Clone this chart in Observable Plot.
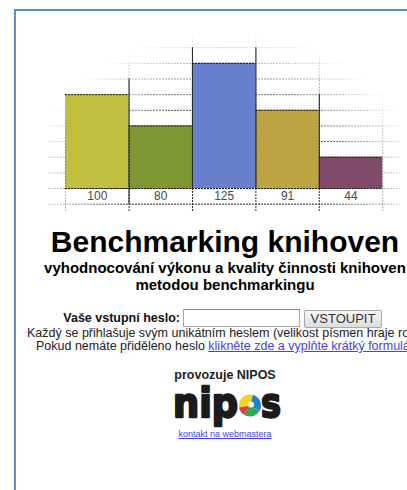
<!DOCTYPE html>
<html><head><meta charset="utf-8">
<script src="https://cdn.jsdelivr.net/npm/d3@7"></script>
<script src="https://cdn.jsdelivr.net/npm/@observablehq/plot@0.6"></script>
<style>
html,body{margin:0;padding:0;width:407px;height:490px;overflow:hidden;background:#fff;font-family:"Liberation Sans",Arial,sans-serif;}
#frame{position:absolute;left:14px;top:9px;width:700px;height:700px;border-left:2px solid #5a8acd;border-top:2px solid #5a8acd;z-index:5;pointer-events:none;}
#chart{position:absolute;left:0;top:0;}
.c{position:absolute;left:15px;width:420px;text-align:center;white-space:nowrap;}
#title{top:225px;font-size:30px;line-height:34px;font-weight:bold;color:#000;}
#sub{top:259px;font-size:15px;line-height:17px;font-weight:bold;color:#000;}
#lbl{position:absolute;left:0;width:180px;top:311px;text-align:right;font-size:12.5px;line-height:15px;font-weight:bold;color:#111;white-space:nowrap;}
#inp{position:absolute;left:183px;top:309px;width:115px;height:16px;border:1px solid #a6a6a6;border-top-color:#8a8a8a;background:#fff;}
#btn{position:absolute;left:304px;top:310px;width:76px;height:16px;border:1px solid #a9a9a9;border-radius:2px;background:linear-gradient(#f7f7f7,#dddddd);font-size:13px;line-height:16px;text-align:center;color:#333;}
.l{position:absolute;white-space:nowrap;font-size:12.5px;line-height:13px;color:#222;}
a{color:#4343e6;text-decoration:underline;}
#prov{top:369px;font-size:12.5px;line-height:13px;font-weight:bold;color:#222;}
#logo{position:absolute;left:160px;top:384px;}
#kontakt{top:429px;font-size:9px;line-height:11px;}
</style></head>
<body>
<div id="frame"></div>
<div id="chart"></div>
<div class="c" id="title">Benchmarking knihoven</div>
<div class="c" id="sub">vyhodnocování výkonu a kvality činnosti knihoven<br>metodou benchmarkingu</div>
<div id="lbl">Vaše vstupní heslo:</div>
<div id="inp"></div>
<div id="btn">VSTOUPIT</div>
<div class="l" style="left:27px;top:327px;">Každý se přihlašuje svým unikátním heslem (velikost písmen hraje roli).</div>
<div class="l" style="left:36px;top:340px;">Pokud nemáte přiděleno heslo <a>klikněte zde a vyplňte krátký formulář</a></div>
<div class="c" id="prov">provozuje NIPOS</div>
<svg id="logo" width="130" height="50"></svg>
<div class="c" id="kontakt"><a>kontakt na webmastera</a></div>
<script>
// ---- data ----
const labels = ["100", "80", "125", "91", "44"];          // value labels under the bars
const heights = [6, 4, 8, 5, 2];                          // drawn bar heights, in grid steps
const colors = ["#c0bf40", "#7f9733", "#6680cc", "#bda443", "#804b68"];
const gridLevels = [-1, 0, 1, 2, 3, 4, 5, 6, 7, 8, 9];    // dotted horizontal grid lines
const boundaries = [0, 1, 2, 3, 4, 5];                    // dotted vertical grid lines
const dividers = [1, 2, 3, 4];                            // solid separators between bars
const dividerTop = [7, 9, 9, 6];
const dividerBottom = [-1, 0, 0, 0];

const bars = labels.map((label, i) => ({i, label, h: heights[i], color: colors[i]}));
const divs = dividers.map((d, k) => ({x: d, top: dividerTop[k], bottom: dividerBottom[k]}));

const dot = "2,1";
const chart = Plot.plot({
  width: 407, height: 215,
  marginLeft: 48, marginRight: 7, marginTop: 35, marginBottom: 3,
  style: {background: "transparent"},
  x: {domain: [-0.27, 5.28], axis: null},
  y: {domain: [-1.53, 9.78], axis: null},
  color: {type: "identity"},
  marks: [
    Plot.ruleY(gridLevels, {stroke: "#2a2a2a", strokeDasharray: dot, ariaLabel: () => "gridh"}),
    Plot.rect(bars, {x1: d => d.i, x2: d => d.i + 1, y1: 0, y2: "h", fill: "color"}),
    Plot.ruleY(bars, {x1: d => d.i, x2: d => d.i + 1, y: "h", stroke: "#111", strokeDasharray: dot}),
    Plot.ruleY(bars, {x1: d => d.i, x2: d => d.i + 1, y: 0, stroke: "#111", strokeDasharray: dot}),
    Plot.ruleX(boundaries, {stroke: "#2a2a2a", strokeDasharray: dot, ariaLabel: () => "gridv"}),
    Plot.ruleX(divs, {x: "x", y1: "bottom", y2: "top", stroke: "#2b2b2b", strokeWidth: 1.1}),
    Plot.text(bars, {x: d => d.i + 0.5, y: -0.5, text: "label", fill: "#4a4a4a", fontSize: 12, fontFamily: "Liberation Sans"})
  ]
});
document.getElementById("chart").appendChild(chart);

// fade the grid towards the edges like the original image
const svg = d3.select(chart);
const defs = svg.append("defs");
const grad = defs.append("radialGradient").attr("id", "fadeGrad");
grad.append("stop").attr("offset", "0.45").attr("stop-color", "#fff");
grad.append("stop").attr("offset", "1").attr("stop-color", "#000");
const mask = defs.append("mask").attr("id", "fadeMask").attr("maskUnits", "userSpaceOnUse")
  .attr("x", 0).attr("y", 0).attr("width", 407).attr("height", 215);
mask.append("rect").attr("x", 25).attr("y", 30).attr("width", 400).attr("height", 320).attr("fill", "url(#fadeGrad)");
svg.selectAll('[aria-label="gridh"], [aria-label="gridv"]').attr("mask", "url(#fadeMask)");

// NIPOS logo
const logo = d3.select("#logo");
const ink = "#1b1b1b";
logo.append("text").attr("x", 13).attr("y", 33).attr("textLength", 65).attr("lengthAdjust", "spacingAndGlyphs")
  .attr("font-family", "DejaVu Sans").attr("font-weight", "bold").attr("font-size", 41)
  .attr("fill", ink).attr("stroke", ink).attr("stroke-width", 2.4).attr("stroke-linejoin", "round").text("nip");
logo.append("text").attr("x", 101).attr("y", 33).attr("textLength", 20).attr("lengthAdjust", "spacingAndGlyphs")
  .attr("font-family", "DejaVu Sans").attr("font-weight", "bold").attr("font-size", 41)
  .attr("fill", ink).attr("stroke", ink).attr("stroke-width", 2.4).attr("stroke-linejoin", "round").text("s");
const pieParts = [
  {a0: -100, a1: 15, c: "#f4d21e"},
  {a0: 15, a1: 120, c: "#1f7fd2"},
  {a0: 120, a1: 215, c: "#2ea84c"},
  {a0: 215, a1: 260, c: "#e23b3b"}
];
const arc = d3.arc().innerRadius(0).outerRadius(11);
const pg = logo.append("g").attr("transform", "translate(90,21.5)");
pieParts.forEach(p => pg.append("path").attr("d", arc({startAngle: p.a0 * Math.PI / 180, endAngle: p.a1 * Math.PI / 180})).attr("fill", p.c));
pg.append("circle").attr("cx", 1).attr("cy", -1).attr("r", 3).attr("fill", "#fff");
</script>
</body></html>
